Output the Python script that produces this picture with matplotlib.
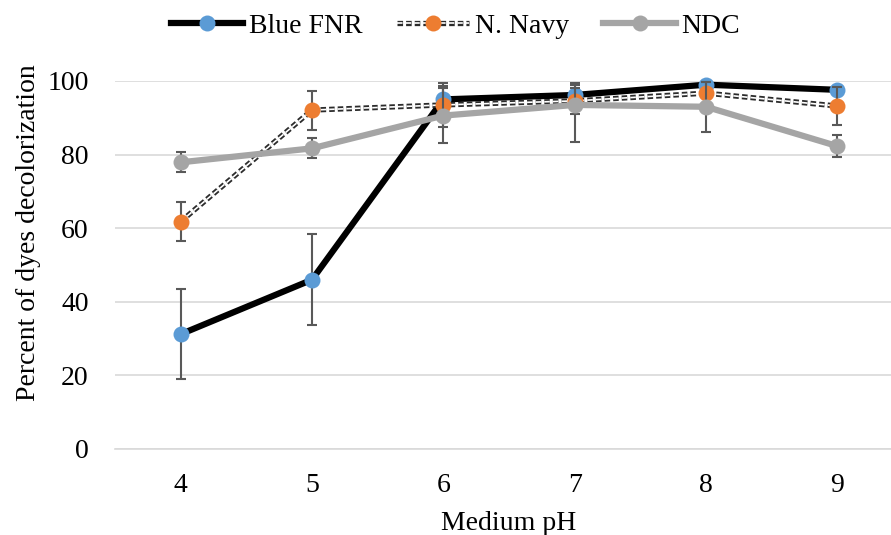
import matplotlib
matplotlib.use("Agg")
import matplotlib.pyplot as plt
import matplotlib.patheffects as pe
from matplotlib.lines import Line2D
from matplotlib.legend_handler import HandlerTuple

# decolorization (%) vs medium pH
ph = [4, 5, 6, 7, 8, 9]
blue_fnr = [31.2, 46.0, 95.0, 96.2, 99.0, 97.6]
blue_fnr_err = [12.3, 12.3, 3.6, 3.2, 1.0, 1.0]
n_navy = [61.8, 92.1, 93.5, 94.6, 96.7, 93.2]
n_navy_err = [5.3, 5.3, 6.0, 3.5, 3.0, 5.2]
ndc = [77.9, 81.7, 90.6, 93.5, 93.0, 82.3]
ndc_err_lo = [2.7, 2.7, 7.5, 10.0, 6.8, 3.0]
ndc_err_hi = [2.7, 2.7, 7.5, 5.5, 6.8, 3.0]

plt.rcParams['font.family'] = ['Liberation Serif', 'DejaVu Serif']
plt.rcParams['lines.scale_dashes'] = False

fig = plt.figure(figsize=(8.91, 5.35), dpi=100)
ax = fig.add_axes([115 / 891, 86 / 535, 788 / 891, 368 / 535])

x = list(range(len(ph)))
grid_c = '#D9D9D9'
err_c = '#595959'
ms = 11.5
err_kw = dict(fmt='none', ecolor=err_c, elinewidth=1.5, capsize=3.8,
              capthick=1.5, clip_on=False)

# Blue FNR
ax.plot(x, blue_fnr, color='black', lw=4.5, zorder=3, clip_on=False)
ax.errorbar(x, blue_fnr, yerr=blue_fnr_err, zorder=4, **err_kw)
ax.plot(x, blue_fnr, 'o', color='#5B9BD5', ms=ms, mew=0, zorder=5, clip_on=False)

# N. Navy: double dashed line
navy_fx = [pe.Stroke(linewidth=3.8, foreground='#2b2b2b'),
           pe.Stroke(linewidth=1.2, foreground='white')]
navy_line, = ax.plot(x, n_navy, color='#2b2b2b', lw=3.8, dashes=(4, 2.2),
                     dash_capstyle='butt', zorder=6, clip_on=False)
navy_line.set_path_effects(navy_fx)
ax.errorbar(x, n_navy, yerr=n_navy_err, zorder=7, **err_kw)
ax.plot(x, n_navy, 'o', color='#ED7D31', ms=ms, mew=0, zorder=8, clip_on=False)

# NDC
ax.plot(x, ndc, color='#A5A5A5', lw=4.5, zorder=9, clip_on=False)
ax.errorbar(x, ndc, yerr=[ndc_err_lo, ndc_err_hi], zorder=10, **err_kw)
ax.plot(x, ndc, 'o', color='#A5A5A5', ms=ms, mew=0, zorder=11, clip_on=False)

ax.set_xlim(-0.5, len(ph) - 0.5)
ax.set_ylim(0, 100)
ax.set_xticks(x)
ax.set_xticklabels([str(p) for p in ph])
ax.set_yticks(range(0, 101, 20))
ax.yaxis.grid(True, color=grid_c, lw=1.2)
ax.set_axisbelow(True)
for side in ['top', 'right', 'left']:
    ax.spines[side].set_visible(False)
ax.spines['bottom'].set_color(grid_c)
ax.spines['bottom'].set_linewidth(1.2)
ax.tick_params(axis='both', length=0, labelsize=20, colors='black')
ax.tick_params(axis='y', pad=19)
ax.tick_params(axis='x', pad=17)

ax.set_xlabel('Medium pH', fontsize=20, labelpad=10)
ax.set_ylabel('Percent of dyes decolorization', fontsize=20)
ax.yaxis.set_label_coords(-0.094, 0.587)

# legend: line and marker overlaid in each handle
h_blue = (Line2D([], [], color='black', lw=4.5),
          Line2D([], [], ls='none', marker='o', color='#5B9BD5', ms=ms, mew=0))
navy_h_line = Line2D([], [], color='#2b2b2b', lw=3.8, dashes=(4, 2.2),
                     dash_capstyle='butt')
navy_h_line.set_path_effects(navy_fx)
h_navy = (navy_h_line,
          Line2D([], [], ls='none', marker='o', color='#ED7D31', ms=ms, mew=0))
h_ndc = (Line2D([], [], color='#A5A5A5', lw=4.5),
         Line2D([], [], ls='none', marker='o', color='#A5A5A5', ms=ms, mew=0))
fig.legend([h_blue, h_navy, h_ndc], ['Blue FNR', 'N. Navy', 'NDC'],
           handler_map={tuple: HandlerTuple(ndivide=1, pad=0)},
           loc='center', bbox_to_anchor=(0.511, 0.951), ncol=3, frameon=False,
           fontsize=20, numpoints=1, handlelength=2.6, handletextpad=0.2,
           columnspacing=1.25, borderpad=0)

fig.savefig('out.png', dpi=100)
